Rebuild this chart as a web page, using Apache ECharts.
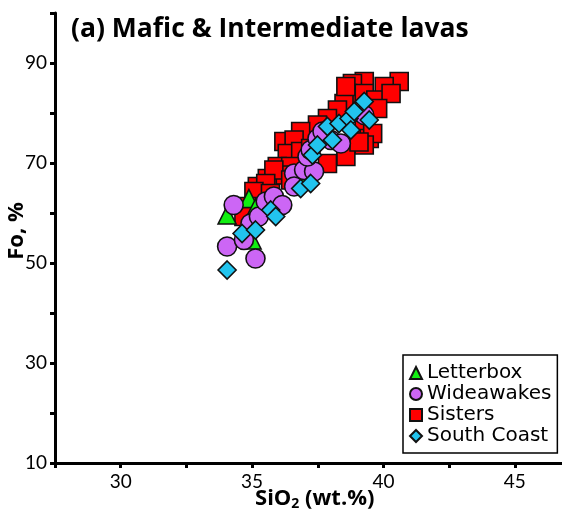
<!DOCTYPE html>
<html>
<head>
<meta charset="utf-8">
<script src="https://cdn.jsdelivr.net/npm/echarts@6/dist/echarts.min.js"></script>
<style>
  html, body { margin: 0; padding: 0; background: #fff; }
  #chart { width: 562px; height: 520px; }
</style>
</head>
<body>
<div id="chart"></div>
<script>
// Olivine Fo content vs whole-rock SiO2 for four lava suites
const seriesNames = ['Letterbox', 'Wideawakes', 'Sisters', 'South Coast'];

const letterboxSiO2 = [34.05, 34.88, 35.00, 35.13, 37.05];
const letterboxFo   = [59.6, 62.9, 54.6, 61.0, 67.3];

const wideawakesSiO2 = [34.05, 35.13, 34.30, 34.69, 34.94, 35.26, 35.52, 35.83, 36.15, 36.60,
                        36.60, 36.98, 37.36, 37.11, 37.23, 37.49, 38.00, 38.38, 37.68, 39.27];
const wideawakesFo   = [53.3, 50.9, 61.6, 54.6, 57.9, 59.3, 62.3, 63.3, 61.6, 67.9,
                        65.3, 68.6, 68.3, 71.3, 72.6, 74.9, 74.6, 73.9, 76.3, 79.6];

const sistersSiO2 = [40.60, 40.03, 39.27, 38.82, 38.63, 39.27, 39.71, 40.29, 39.78, 39.27,
                     39.46, 39.59, 38.50, 38.25, 37.87, 37.49, 36.85, 36.21, 36.60, 36.34,
                     36.85, 37.23, 38.57, 37.87, 35.96, 36.47, 36.21, 35.58, 35.83, 35.20,
                     35.52, 35.07, 34.82, 34.69, 36.47, 35.70, 38.57, 39.27, 39.07];
const sistersFo   = [86.3, 85.3, 86.3, 85.9, 83.9, 83.9, 82.6, 83.9, 80.9, 76.6,
                     74.9, 75.9, 81.9, 80.6, 78.9, 77.6, 76.3, 74.3, 74.6, 71.9,
                     72.3, 72.9, 71.3, 69.9, 69.3, 69.3, 67.6, 66.9, 68.6, 65.3,
                     65.9, 64.3, 61.3, 59.3, 66.6, 63.9, 85.3, 73.6, 74.2];

const southCoastSiO2 = [34.05, 34.62, 35.13, 35.71, 35.90, 36.85, 37.23, 37.30, 37.49, 37.87,
                        38.06, 38.31, 38.69, 38.89, 38.76, 39.27, 39.46];
const southCoastFo   = [48.6, 55.9, 56.6, 60.6, 59.3, 64.9, 65.9, 71.6, 73.6, 77.3,
                        74.6, 77.9, 78.9, 80.3, 76.6, 82.3, 78.6];

const xTickLabels = [30, 35, 40, 45];
const yTickLabels = [10, 30, 50, 70, 90];

const pair = (xs, ys) => xs.map((x, i) => [x, ys[i]]);

const chart = echarts.init(document.getElementById('chart'), null, { renderer: 'canvas' });

const tickFont = 'Lato, "Open Sans", sans-serif';
const boldFont = '"Open Sans", Lato, sans-serif';
const axisBase = {
  axisLine: { show: true, lineStyle: { color: '#000', width: 3 } },
  axisTick: { show: true, inside: false, length: 5, lineStyle: { color: '#000', width: 3 } },
  splitLine: { show: false },
  nameMoveOverlap: false
};

const border = { borderColor: '#111', borderWidth: 1.6 };

chart.setOption({
  animation: false,
  backgroundColor: '#fff',
  title: {
    text: '(a) Mafic & Intermediate lavas',
    left: 66, top: 11,
    textStyle: { fontFamily: boldFont, fontWeight: 'bold', fontSize: 26.5, color: '#000' }
  },
  legend: {
    orient: 'vertical',
    left: 403, top: 355,
    data: [
      { name: 'Letterbox', icon: 'triangle' },
      { name: 'Wideawakes', icon: 'circle' },
      { name: 'Sisters', icon: 'rect' },
      { name: 'South Coast', icon: 'diamond' }
    ],
    itemWidth: 12, itemHeight: 12, itemGap: 1,
    padding: [8, 6, 7, 6],
    borderColor: '#000', borderWidth: 1.5,
    backgroundColor: '#fff',
    textStyle: { fontFamily: '"DejaVu Sans", sans-serif', fontSize: 20, lineHeight: 19, color: '#000' }
  },
  grid: { left: 55, top: 13, right: -18.5, bottom: 57, outerBoundsMode: 'none', containLabel: false },
  xAxis: Object.assign({}, axisBase, {
    type: 'value', min: 27.5, max: 47.5, interval: 2.5,
    name: '{b|SiO}{s|2}{b| (wt.%)}',
    nameLocation: 'middle', nameGap: 24,
    nameTextStyle: {
      padding: [0, 6, 0, 0],
      rich: {
        b: { fontFamily: boldFont, fontWeight: 'bold', fontSize: 22, color: '#000' },
        s: { fontFamily: boldFont, fontWeight: 'bold', fontSize: 14, color: '#000', padding: [10, 0, 0, 0] }
      }
    },
    axisLabel: {
      color: '#000', fontFamily: tickFont, fontSize: 19, margin: 9,
      formatter: v => xTickLabels.includes(v) ? String(v) : ''
    }
  }),
  yAxis: Object.assign({}, axisBase, {
    type: 'value', min: 10, max: 100, interval: 10,
    name: '{p|}{a|Fo, %}', nameLocation: 'middle', nameGap: 27, nameRotate: 90,
    nameTextStyle: {
      rich: {
        p: { width: 14 },
        a: { color: '#000', fontFamily: boldFont, fontWeight: 'bold', fontSize: 22 }
      }
    },
    axisLabel: {
      color: '#000', fontFamily: tickFont, fontSize: 19, margin: 8,
      formatter: v => yTickLabels.includes(v) ? String(v) : ''
    }
  }),
  series: [
    {
      name: 'Sisters', type: 'scatter', symbol: 'rect', symbolSize: 18, z: 2,
      itemStyle: Object.assign({ color: '#ff0000', opacity: 1 }, border),
      data: pair(sistersSiO2, sistersFo)
    },
    {
      name: 'Letterbox', type: 'scatter', symbol: 'triangle', symbolSize: 18, z: 3,
      itemStyle: Object.assign({ color: '#11ee11', opacity: 1 }, border),
      data: pair(letterboxSiO2, letterboxFo)
    },
    {
      name: 'Wideawakes', type: 'scatter', symbol: 'circle', symbolSize: 19, z: 4,
      itemStyle: Object.assign({ color: '#cc66f5', opacity: 1 }, border),
      data: pair(wideawakesSiO2, wideawakesFo)
    },
    {
      name: 'South Coast', type: 'scatter', symbol: 'diamond', symbolSize: 18, z: 5,
      itemStyle: Object.assign({ color: '#22c4ee', opacity: 1 }, border),
      data: pair(southCoastSiO2, southCoastFo)
    }
  ]
});
</script>
</body>
</html>
